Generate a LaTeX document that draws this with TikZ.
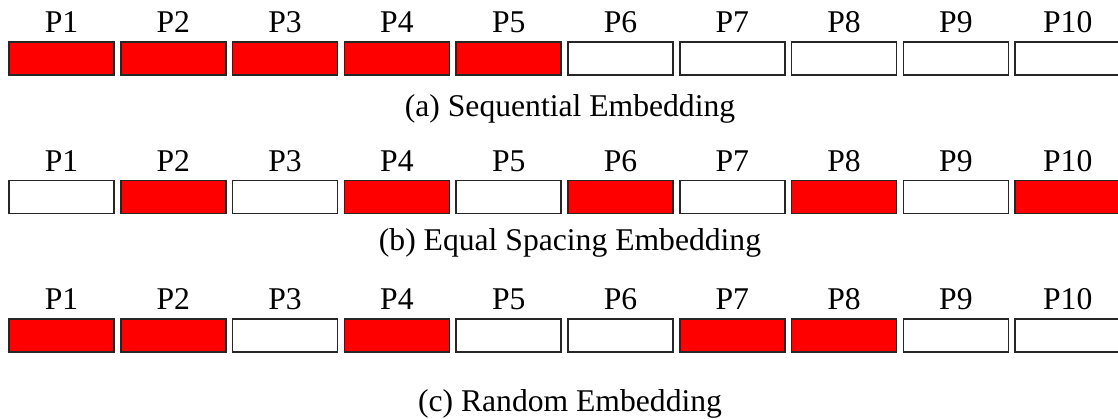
\documentclass[tikz,border=0pt]{standalone}
\usepackage{fontspec}
\setmainfont{Liberation Serif}
\usetikzlibrary{positioning}

\begin{document}
\begin{tikzpicture}[node distance=0.17cm,
    slot/.style={draw=black!85,line width=1.1pt,outer sep=0pt,inner sep=0pt,minimum width=2.625cm,minimum height=0.825cm,
        label={[inner sep=0pt,text depth=0pt,label distance=0.225cm,font=\fontsize{22.5}{26}\selectfont]above:#1}},
    used/.style={slot=#1,fill=red},
    caption/.style={anchor=base,inner sep=0pt,font=\fontsize{22.5}{26}\selectfont}]
    \useasboundingbox (0,0) rectangle (27.95,-10.45);

    % sequential
    \node[used=P1] (a1) at (1.5375,-1.4625) {};
    \node[used=P2] (a2) [right=of a1] {};
    \node[used=P3] (a3) [right=of a2] {};
    \node[used=P4] (a4) [right=of a3] {};
    \node[used=P5] (a5) [right=of a4] {};
    \node[slot=P6] (a6) [right=of a5] {};
    \node[slot=P7] (a7) [right=of a6] {};
    \node[slot=P8] (a8) [right=of a7] {};
    \node[slot=P9] (a9) [right=of a8] {};
    \node[slot=P10] (a10) [right=of a9] {};
    \node[caption] (capa) at (14.25,-2.9) {(a) Sequential Embedding};

    % equal spacing
    \node[slot=P1] (b1) [below=2.6375cm of a1] {};
    \node[used=P2] (b2) [right=of b1] {};
    \node[slot=P3] (b3) [right=of b2] {};
    \node[used=P4] (b4) [right=of b3] {};
    \node[slot=P5] (b5) [right=of b4] {};
    \node[used=P6] (b6) [right=of b5] {};
    \node[slot=P7] (b7) [right=of b6] {};
    \node[used=P8] (b8) [right=of b7] {};
    \node[slot=P9] (b9) [right=of b8] {};
    \node[used=P10] (b10) [right=of b9] {};
    \node[caption] (capb) at (14.25,-6.25) {(b) Equal Spacing Embedding};

    % random
    \node[used=P1] (c1) [below=2.6375cm of b1] {};
    \node[used=P2] (c2) [right=of c1] {};
    \node[slot=P3] (c3) [right=of c2] {};
    \node[used=P4] (c4) [right=of c3] {};
    \node[slot=P5] (c5) [right=of c4] {};
    \node[slot=P6] (c6) [right=of c5] {};
    \node[used=P7] (c7) [right=of c6] {};
    \node[used=P8] (c8) [right=of c7] {};
    \node[slot=P9] (c9) [right=of c8] {};
    \node[slot=P10] (c10) [right=of c9] {};
    \node[caption] (capc) at (14.25,-10.275) {(c) Random Embedding};

\end{tikzpicture}
\end{document}
